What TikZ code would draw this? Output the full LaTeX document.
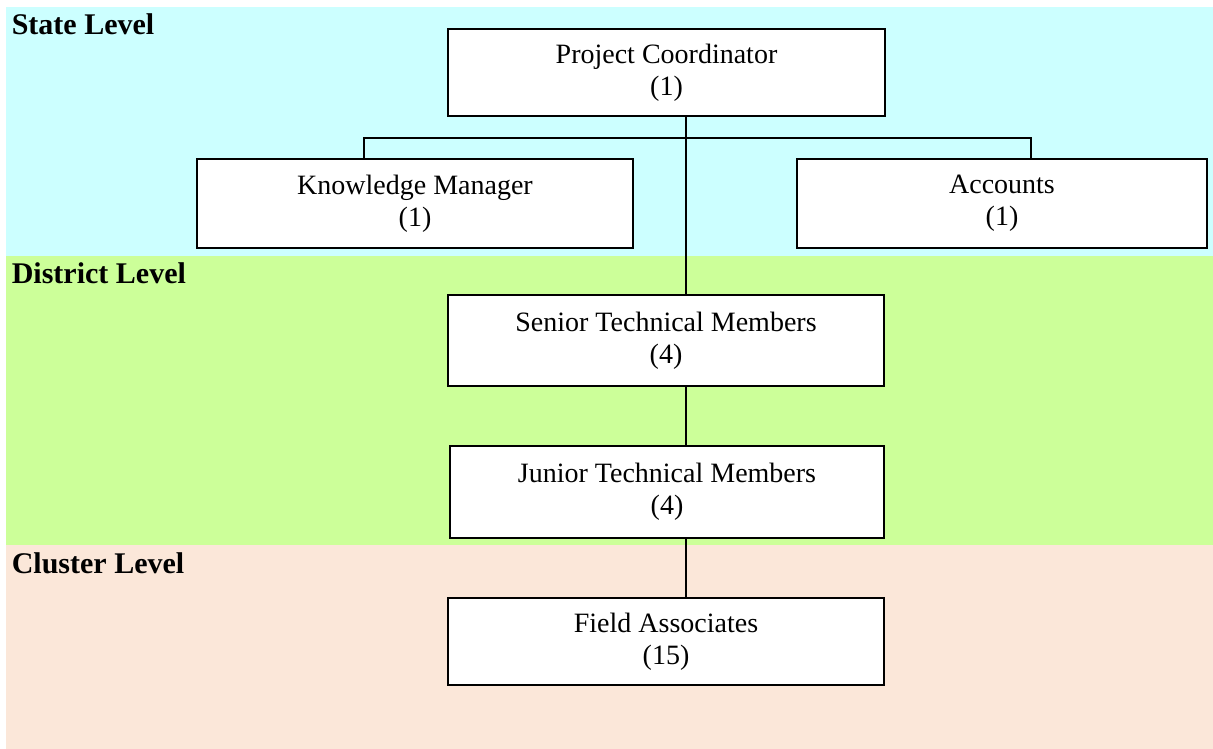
\documentclass[tikz,border=0pt]{standalone}
\usepackage{fontspec}
\setmainfont{Liberation Serif}
\usetikzlibrary{positioning}
\usetikzlibrary{calc}
\definecolor{statebg}{HTML}{CCFFFF}
\definecolor{districtbg}{HTML}{CCFF99}
\definecolor{clusterbg}{HTML}{FBE7D9}

\begin{document}
\begin{tikzpicture}[x=1pt,y=-1pt,line width=1.6pt,
  post/.style={draw,fill=white,align=center,inner sep=0pt,
    font=\fontsize{28}{32}\selectfont},
  level/.style={anchor=base west,inner sep=0pt,
    font=\fontsize{30}{34}\selectfont\bfseries}]
\useasboundingbox (0,0) rectangle (1213,749);
\fill[statebg] (6,7) rectangle (1213,256);
\fill[districtbg] (6,256) rectangle (1213,545);
\fill[clusterbg] (6,545) rectangle (1213,749);
\node[level] (state) at (11,35) {State Level};
\node[level] (district) at (11,283) {District Level};
\node[level] (cluster) at (11,573) {Cluster Level};
\node[post,minimum width=437,minimum height=87] (pc) at (666.5,72.5) {Project Coordinator\\(1)};
\node[post,minimum width=436,minimum height=89] (km) at (415,203.5) {Knowledge Manager\\(1)};
\node[post,minimum width=410,minimum height=89] (acc) at (1002,203.5) {Accounts\\(1)};
\node[post,minimum width=436,minimum height=91] (stm) at (666,340.5) {Senior Technical Members\\(4)};
\node[post,minimum width=434,minimum height=92] (jtm) at (667,492) {Junior Technical Members\\(4)};
\node[post,minimum width=436,minimum height=87] (fa) at (666,641.5) {Field Associates\\(15)};
\coordinate (spine) at (686,138);
\coordinate (kmtap) at (364,138);
\coordinate (acctap) at (1031,138);
\draw (pc.south -| spine) -- (spine) -- (stm.north -| spine);
\draw (km.north -| kmtap) -- (kmtap) -- (acctap) -- (acc.north -| acctap);
\draw (stm.south -| spine) -- (jtm.north -| spine);
\draw (jtm.south -| spine) -- (fa.north -| spine);
\end{tikzpicture}
\end{document}
